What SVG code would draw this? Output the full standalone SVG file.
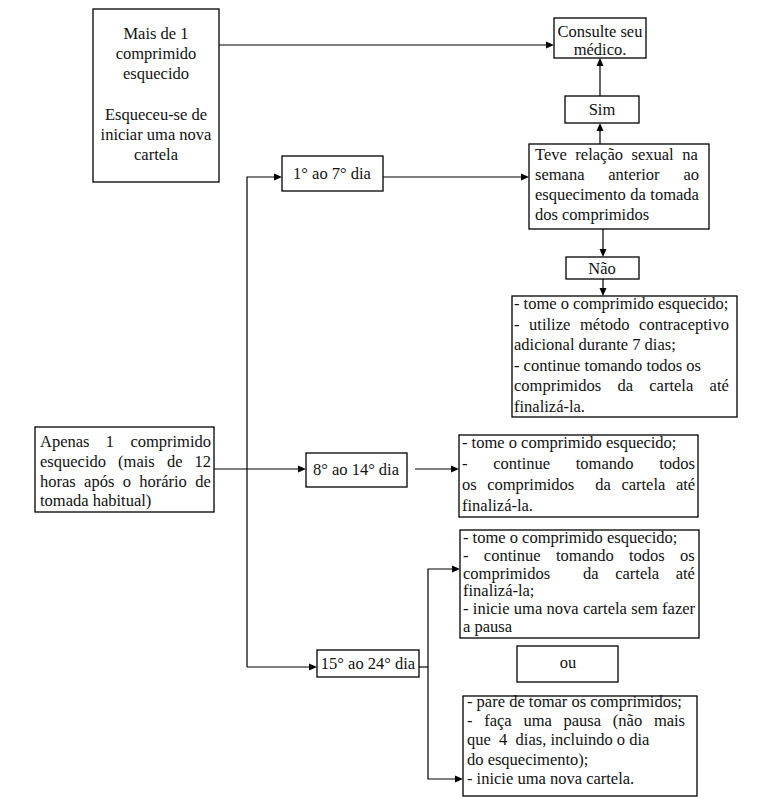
<svg xmlns="http://www.w3.org/2000/svg" width="775" height="799" viewBox="0 0 775 799">
<defs>
<path id="ar" d="M0,0 L-8,-3.5 L-8,3.5 z" fill="#000"/>
</defs>
<rect width="775" height="799" fill="#fff"/>
<g id="connectors">
<g fill="none" stroke="#000" stroke-width="1.2">
<path d="M219,45 H548"/>
<path d="M600,96 V64"/>
<path d="M600,144 V129"/>
<path d="M603,229 V251"/>
<path d="M603,279 V290"/>
<path d="M383,177 H523"/>
<path d="M247,667 V177 H276"/>
<path d="M247,667 H311"/>
<path d="M214,469 H300"/>
<path d="M415,469 H453"/>
<path d="M419,667 H428"/>
<path d="M428,667 V569 H454"/>
<path d="M428,667 V779 H457"/>
</g>
<use href="#ar" transform="translate(554,45)"/>
<use href="#ar" transform="translate(600,58) rotate(-90)"/>
<use href="#ar" transform="translate(600,123) rotate(-90)"/>
<use href="#ar" transform="translate(603,257) rotate(90)"/>
<use href="#ar" transform="translate(603,296) rotate(90)"/>
<use href="#ar" transform="translate(529,177)"/>
<use href="#ar" transform="translate(282,177)"/>
<use href="#ar" transform="translate(317,667)"/>
<use href="#ar" transform="translate(306,469)"/>
<use href="#ar" transform="translate(459,469)"/>
<use href="#ar" transform="translate(460,569)"/>
<use href="#ar" transform="translate(463,779)"/>
</g>
<g id="nodes" fill="#fff" stroke="#000" stroke-width="1.3" font-family="Liberation Serif, Times New Roman, serif" font-size="16.5">
<g id="n-mais">
<rect x="93" y="9" width="126" height="173"/>
<text fill="#111" stroke="none" text-anchor="middle"><tspan x="156" y="39">Mais de 1</tspan><tspan x="156" y="59">comprimido</tspan><tspan x="156" y="79">esquecido</tspan><tspan x="156" y="120">Esqueceu-se de</tspan><tspan x="156" y="140">iniciar uma nova</tspan><tspan x="156" y="160">cartela</tspan></text>
</g>
<g id="n-consulte">
<rect x="554" y="18" width="92" height="40"/>
<text fill="#111" stroke="none" text-anchor="middle"><tspan x="600" y="37">Consulte seu</tspan><tspan x="600" y="55">médico.</tspan></text>
</g>
<g id="n-sim">
<rect x="565" y="96" width="74" height="27"/>
<text fill="#111" stroke="none" text-anchor="middle" x="602" y="115">Sim</text>
</g>
<g id="n-teve">
<rect x="529" y="144" width="180" height="85"/>
<g fill="#111" stroke="none">
<text x="535" y="160" word-spacing="4.4">Teve relação sexual na</text>
<text x="535" y="180" word-spacing="19.7">semana anterior ao</text>
<text x="535" y="200" word-spacing="0.4">esquecimento da tomada</text>
<text x="535" y="220">dos comprimidos</text>
</g>
</g>
<g id="n-nao">
<rect x="566" y="257" width="73" height="22"/>
<text fill="#111" stroke="none" text-anchor="middle" x="602" y="274">Não</text>
</g>
<g id="n-nao-acao">
<rect x="512" y="296" width="225" height="121"/>
<g fill="#111" stroke="none">
<text x="514" y="309">- tome o comprimido esquecido;</text>
<text x="514" y="329.6" word-spacing="5.5">- utilize método contraceptivo</text>
<text x="514" y="350.2">adicional durante 7 dias;</text>
<text x="514" y="370.8">- continue tomando todos os</text>
<text x="514" y="391.4" word-spacing="12.2">comprimidos da cartela até</text>
<text x="514" y="412">finalizá-la.</text>
</g>
</g>
<g id="n-1a7">
<rect x="282" y="156" width="101" height="35"/>
<text fill="#111" stroke="none" text-anchor="middle" x="332" y="179">1° ao 7° dia</text>
</g>
<g id="n-apenas">
<rect x="35" y="427" width="179" height="85"/>
<g fill="#111" stroke="none">
<text x="40" y="447" word-spacing="12.2">Apenas 1 comprimido</text>
<text x="40" y="467" word-spacing="8">esquecido (mais de 12</text>
<text x="40" y="487" word-spacing="4.2">horas após o horário de</text>
<text x="40" y="506">tomada habitual)</text>
</g>
</g>
<g id="n-8a14">
<rect x="306" y="453" width="101" height="34"/>
<text fill="#111" stroke="none" text-anchor="middle" x="356" y="475">8° ao 14° dia</text>
</g>
<g id="n-8a14-acao">
<rect x="459" y="435" width="239" height="82"/>
<g fill="#111" stroke="none">
<text x="462" y="448">- tome o comprimido esquecido;</text>
<text x="462" y="469" word-spacing="21.6">- continue tomando todos</text>
<text y="490" word-spacing="6.4"><tspan x="462">os comprimidos</tspan> <tspan x="595.3">da cartela até</tspan></text>
<text x="462" y="511">finalizá-la.</text>
</g>
</g>
<g id="n-15a24">
<rect x="317" y="650" width="102" height="27"/>
<text fill="#111" stroke="none" text-anchor="middle" x="368" y="669">15° ao 24° dia</text>
</g>
<g id="n-15a24-acao1">
<rect x="460" y="530" width="239" height="108"/>
<g fill="#111" stroke="none">
<text x="463" y="543">- tome o comprimido esquecido;</text>
<text x="463" y="560.8" word-spacing="11.2">- continue tomando todos os</text>
<text y="578.6" word-spacing="12.4"><tspan x="463">comprimidos</tspan> <tspan x="583.1">da cartela até</tspan></text>
<text x="463" y="596.4">finalizá-la;</text>
<text x="463" y="614.2" word-spacing="0.2">- inicie uma nova cartela sem fazer</text>
<text x="463" y="632">a pausa</text>
</g>
</g>
<g id="n-ou">
<rect x="517" y="646" width="101" height="36"/>
<text fill="#111" stroke="none" text-anchor="middle" x="568" y="668">ou</text>
</g>
<g id="n-15a24-acao2">
<rect x="463" y="696" width="234" height="100"/>
<g fill="#111" stroke="none">
<text x="467" y="707">- pare de tomar os comprimidos;</text>
<text x="467" y="726" word-spacing="7.6">- faça uma pausa (não mais</text>
<text y="745"><tspan x="467">que</tspan> <tspan x="499.1">4</tspan> <tspan x="515.6">dias, incluindo o dia</tspan></text>
<text x="467" y="765">do esquecimento);</text>
<text x="467" y="784">- inicie uma nova cartela.</text>
</g>
</g>
</g>
</svg>
